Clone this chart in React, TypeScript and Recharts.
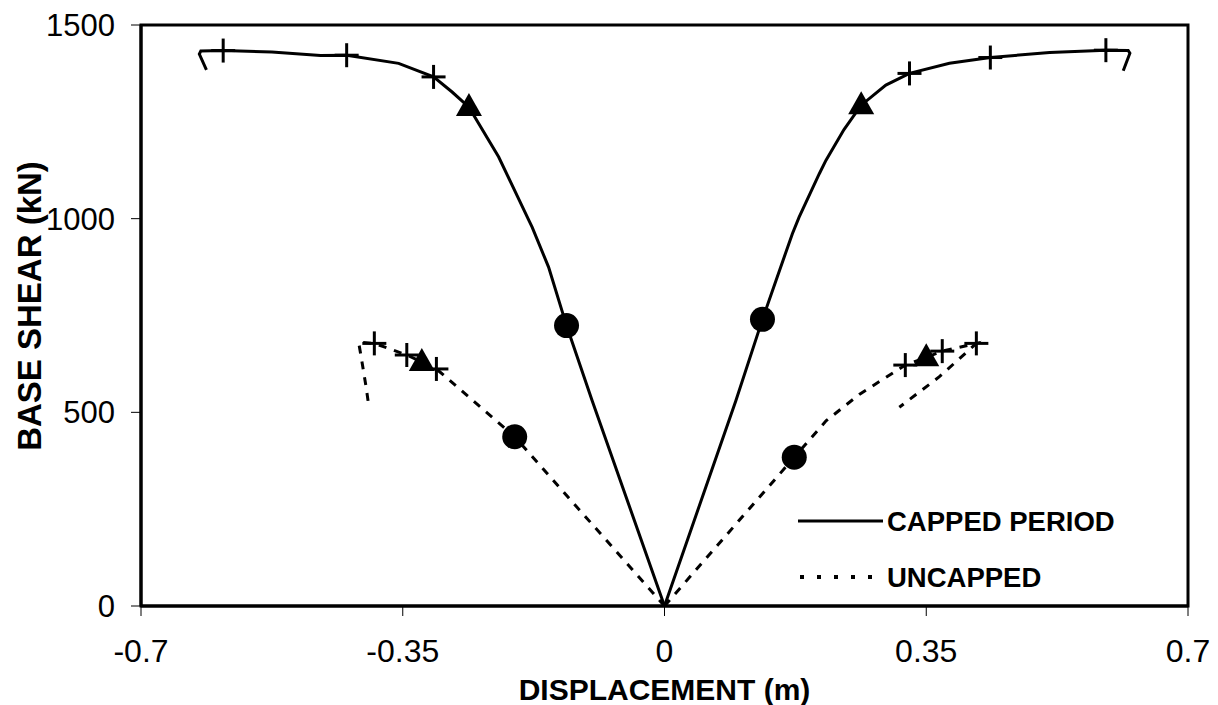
import React from "react";
import {
  ComposedChart,
  Legend,
  ReferenceArea,
  Scatter,
  XAxis,
  YAxis,
} from "recharts";

type Pt = { x: number; y: number };

// displacement (m) / base shear (kN)
const xTicks = [-0.7, -0.35, 0, 0.35, 0.7];
const yTicks = [0, 500, 1000, 1500];

// capped period pushover curves, both directions
const cappedRight: Pt[] = [
  { x: 0, y: 0 }, { x: 0.0954, y: 530 }, { x: 0.131, y: 740 }, { x: 0.149, y: 840 },
  { x: 0.171, y: 961 }, { x: 0.18, y: 1004 }, { x: 0.207, y: 1116 }, { x: 0.216, y: 1151 },
  { x: 0.24, y: 1230 }, { x: 0.263, y: 1293 }, { x: 0.296, y: 1345 }, { x: 0.3276, y: 1375 },
  { x: 0.381, y: 1401 }, { x: 0.4357, y: 1416 }, { x: 0.515, y: 1429 }, { x: 0.5902, y: 1435 },
  { x: 0.62, y: 1434 }, { x: 0.6223, y: 1427 }, { x: 0.6134, y: 1382 },
];
const cappedLeft: Pt[] = [
  { x: 0, y: 0 }, { x: -0.0967, y: 530 }, { x: -0.131, y: 724 }, { x: -0.155, y: 875 },
  { x: -0.177, y: 978 }, { x: -0.1815, y: 996 }, { x: -0.2217, y: 1159 }, { x: -0.2615, y: 1288 },
  { x: -0.284, y: 1327 }, { x: -0.3088, y: 1366 }, { x: -0.3555, y: 1401 }, { x: -0.425, y: 1422 },
  { x: -0.46, y: 1421 }, { x: -0.525, y: 1430 }, { x: -0.5901, y: 1434 }, { x: -0.62, y: 1433 },
  { x: -0.622, y: 1425 }, { x: -0.6125, y: 1384 },
];

// uncapped curves
const uncappedRight: Pt[] = [
  { x: 0, y: 0 }, { x: 0.1735, y: 384 }, { x: 0.216, y: 478 }, { x: 0.261, y: 547 },
  { x: 0.322, y: 622 }, { x: 0.35, y: 642 }, { x: 0.3714, y: 658 }, { x: 0.417, y: 678 },
  { x: 0.3676, y: 592 }, { x: 0.314, y: 513 },
];
const uncappedLeft: Pt[] = [
  { x: 0, y: 0 }, { x: -0.2003, y: 437 }, { x: -0.266, y: 547 }, { x: -0.305, y: 612 },
  { x: -0.3245, y: 630 }, { x: -0.3446, y: 648 }, { x: -0.388, y: 678 }, { x: -0.409, y: 681 },
  { x: -0.4055, y: 642 }, { x: -0.3988, y: 563 }, { x: -0.3957, y: 520 },
];

// performance point markers
const crossPts: Pt[] = [
  { x: -0.5901, y: 1434 }, { x: -0.425, y: 1422 }, { x: -0.3088, y: 1366 },
  { x: 0.3276, y: 1375 }, { x: 0.4357, y: 1416 }, { x: 0.5902, y: 1435 },
  { x: -0.388, y: 678 }, { x: -0.3446, y: 648 }, { x: -0.305, y: 612 },
  { x: 0.322, y: 622 }, { x: 0.3714, y: 658 }, { x: 0.417, y: 678 },
];
const trianglePts: Pt[] = [
  { x: -0.2615, y: 1288 }, { x: 0.263, y: 1293 },
  { x: -0.3245, y: 630 }, { x: 0.35, y: 642 },
];
const circlePts: Pt[] = [
  { x: -0.131, y: 724 }, { x: 0.131, y: 740 },
  { x: -0.2003, y: 437 }, { x: 0.1735, y: 384 },
];

const FONT = "'Liberation Sans', Arial, sans-serif";
const INK = "#000";

const noDot = () => <g />;

const Cross = (p: any) => (
  <g stroke={INK} strokeWidth={3}>
    <line x1={p.cx - 12} y1={p.cy} x2={p.cx + 12} y2={p.cy} />
    <line x1={p.cx} y1={p.cy - 12} x2={p.cx} y2={p.cy + 12} />
  </g>
);

const Triangle = (p: any) => (
  <polygon
    points={`${p.cx},${p.cy - 14} ${p.cx - 13},${p.cy + 9} ${p.cx + 13},${p.cy + 9}`}
    fill={INK}
  />
);

const Dot = (p: any) => <circle cx={p.cx} cy={p.cy} r={12.5} fill={INK} />;

const solid = { stroke: INK, strokeWidth: 3 };
const dashed = { stroke: INK, strokeWidth: 3, strokeDasharray: "8 8" };

function LegendBox() {
  return (
    <svg width={380} height={110} style={{ fontFamily: FONT, display: "block", overflow: "visible" }}>
      <line x1={0} y1={21} x2={85} y2={21} stroke={INK} strokeWidth={3} />
      <text x={89} y={31} fontSize={27.5} fontWeight="bold" fill={INK}>
        CAPPED PERIOD
      </text>
      <line x1={2} y1={77} x2={74} y2={77} stroke={INK} strokeWidth={4} strokeDasharray="4 13" />
      <text x={89} y={87} fontSize={27.5} fontWeight="bold" fill={INK}>
        UNCAPPED
      </text>
    </svg>
  );
}

export default function App() {
  const xTick = { fontSize: 32, fill: INK, fontFamily: FONT };
  const yTick = { fontSize: 31, fill: INK, fontFamily: FONT };
  return (
    <div style={{ position: "absolute", left: 0, top: 0, width: 1218, height: 705, background: "#fff" }}>
      <ComposedChart width={1218} height={705} margin={{ top: 25, right: 30, left: 0, bottom: 0 }}>
        <XAxis
          type="number"
          dataKey="x"
          domain={[-0.7, 0.7]}
          ticks={xTicks}
          allowDataOverflow
          height={99}
          tickSize={10}
          tickMargin={23}
          tick={xTick}
          axisLine={{ stroke: INK, strokeWidth: 3 }}
          tickLine={{ stroke: INK, strokeWidth: 1 }}
          label={{
            value: "DISPLACEMENT (m)",
            position: "insideBottom",
            offset: 5,
            style: { fontSize: 30, fontWeight: "bold", fill: INK, fontFamily: FONT },
          }}
        />
        <YAxis
          type="number"
          dataKey="y"
          domain={[0, 1500]}
          ticks={yTicks}
          allowDataOverflow
          width={141}
          tickSize={10}
          tickMargin={16}
          tick={yTick}
          axisLine={{ stroke: INK, strokeWidth: 3 }}
          tickLine={{ stroke: INK, strokeWidth: 1 }}
          label={{
            content: () => (
              <text
                x={29}
                y={306}
                transform="rotate(-90, 29, 306)"
                textAnchor="middle"
                dominantBaseline="central"
                fontSize={33}
                fontWeight="bold"
                fill={INK}
                fontFamily={FONT}
              >
                BASE SHEAR (kN)
              </text>
            ),
          }}
        />
        <ReferenceArea x1={-0.7} x2={0.7} y1={0} y2={1500} fill="none" fillOpacity={0} stroke={INK} strokeWidth={3} />
        <Scatter data={cappedRight} line={solid} lineType="joint" shape={noDot} isAnimationActive={false} />
        <Scatter data={cappedLeft} line={solid} lineType="joint" shape={noDot} isAnimationActive={false} />
        <Scatter data={uncappedRight} line={dashed} lineType="joint" shape={noDot} isAnimationActive={false} />
        <Scatter data={uncappedLeft} line={dashed} lineType="joint" shape={noDot} isAnimationActive={false} />
        <Scatter data={crossPts} shape={Cross} isAnimationActive={false} />
        <Scatter data={trianglePts} shape={Triangle} isAnimationActive={false} />
        <Scatter data={circlePts} shape={Dot} isAnimationActive={false} />
        <Legend
          layout="vertical"
          align="center"
          verticalAlign="middle"
          content={() => <LegendBox />}
          wrapperStyle={{ position: "absolute", left: 798, top: 500, width: 380, height: 110 }}
        />
      </ComposedChart>
    </div>
  );
}
